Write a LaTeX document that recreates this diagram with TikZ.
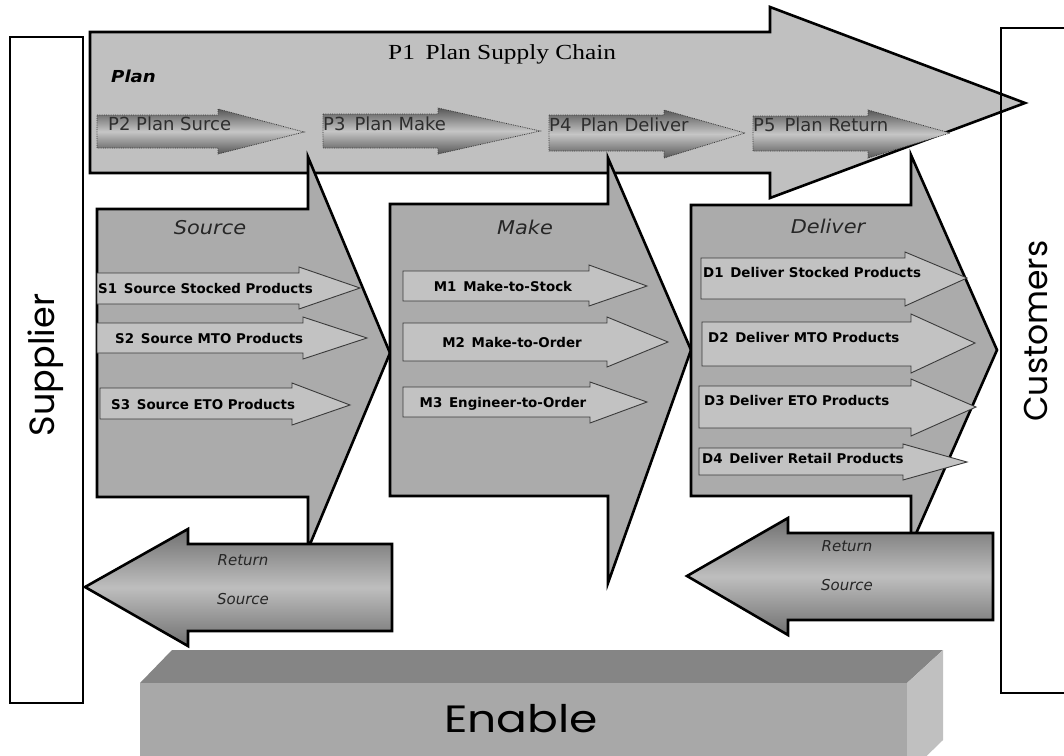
\documentclass[tikz,border=0pt]{standalone}
\usepackage{fontspec}
\setmainfont{Liberation Serif}
\newfontfamily\titlefont[FakeStretch=1.18]{Liberation Serif}
\newfontfamily\vfont{DejaVu Sans}
\newfontfamily\vwidefont[FakeStretch=1.1]{DejaVu Sans}
\newfontfamily\gfont{Poppins}
\newfontfamily\gwidefont[FakeStretch=1.2]{Poppins}
\definecolor{planfill}{HTML}{C0C0C0}
\definecolor{stagefill}{HTML}{ABABAB}
\definecolor{subfill}{HTML}{C2C2C2}
\definecolor{subedge}{HTML}{3A3A3A}
\definecolor{stepdark}{HTML}{585858}
\definecolor{steplight}{HTML}{C6C6C6}
\definecolor{steptext}{HTML}{2E2E2E}
\definecolor{retdark}{HTML}{707070}
\definecolor{retlight}{HTML}{BEBEBE}
\definecolor{slabtop}{HTML}{858585}
\definecolor{slabfront}{HTML}{A8A8A8}
\definecolor{slabside}{HTML}{C0C0C0}
\begin{document}
\begin{tikzpicture}[x=1pt,y=-1pt,
  outline/.style={draw=black,line width=2.6pt,line join=miter},
  planshape/.style={outline,fill=planfill},
  stageshape/.style={outline,fill=stagefill},
  subarrow/.style={draw=subedge,line width=0.9pt,fill=subfill},
  stepshape/.style={draw=subedge,densely dotted,line width=0.8pt,
    top color=stepdark,bottom color=stepdark,middle color=steplight},
  retshape/.style={outline,top color=retdark,bottom color=retdark,middle color=retlight},
  sidebox/.style={draw=black,line width=2pt,fill=white},
  steplabel/.style={anchor=base west,inner sep=0pt,text=steptext,
    font=\vfont\fontsize{18}{20}\selectfont},
  sublabel/.style={anchor=base west,inner sep=0pt,
    font=\vfont\bfseries\fontsize{13.4}{15}\selectfont},
  stagelabel/.style={anchor=base,inner sep=0pt,text=black!85,
    font=\vwidefont\itshape\fontsize{19}{21}\selectfont},
  retlabel/.style={anchor=base,inner sep=0pt,text=black!85,
    font=\vfont\itshape\fontsize{15}{17}\selectfont},
  sidelabel/.style={inner sep=0pt,font=\gfont\fontsize{33}{35}\selectfont}
]
\useasboundingbox (0,0) rectangle (1064,755);

% supplier side box
\draw[sidebox] (10,37) rectangle (83,703);
\node[sidelabel,rotate=90,font=\gfont\fontsize{35}{37}\selectfont] (supplier) at (46,365) {Supplier};

% plan: the big arrow across the top
\draw[planshape] (90,32) -- (770,32) -- (770,7) -- (1025,103) -- (770,198)
  -- (770,173) -- (90,173) -- cycle;
\node[anchor=base west,inner sep=0pt,font=\titlefont\fontsize{21.5}{24}\selectfont]
  (p1) at (388,59) {P1\hspace{0.5em}Plan Supply Chain};
\node[anchor=base west,inner sep=0pt,
  font=\vwidefont\bfseries\itshape\fontsize{16.5}{19}\selectfont]
  (plan) at (111,82) {Plan};

% planning steps
\draw[stepshape] (97,115) -- (218,115) -- (218,109) -- (304,132) -- (218,154)
  -- (218,148) -- (97,148) -- cycle;
\draw[stepshape] (323,114) -- (438,114) -- (438,108) -- (540,131) -- (438,154)
  -- (438,148) -- (323,148) -- cycle;
\draw[stepshape] (549,115) -- (664,115) -- (664,110) -- (745,133) -- (664,158)
  -- (664,151) -- (549,151) -- cycle;
\draw[stepshape] (753,116) -- (868,116) -- (868,110) -- (950,133) -- (868,158)
  -- (868,151) -- (753,151) -- cycle;
\node[steplabel] (p2) at (108,130) {P2 Plan Surce};
\node[steplabel] (p3) at (323,130) {P3\hspace{0.5em}Plan Make};
\node[steplabel] (p4) at (549,131) {P4\hspace{0.5em}Plan Deliver};
\node[steplabel] (p5) at (753,131) {P5\hspace{0.5em}Plan Return};

% execution stages
\draw[stageshape] (97,209) -- (308,209) -- (308,157) -- (390,353) -- (308,549)
  -- (308,497) -- (97,497) -- cycle;
\draw[stageshape] (390,204) -- (608,204) -- (608,158) -- (691,350) -- (608,583)
  -- (608,496) -- (390,496) -- cycle;
\draw[stageshape] (691,205) -- (911,205) -- (911,155) -- (997,350) -- (911,545)
  -- (911,496) -- (691,496) -- cycle;
\node[stagelabel] (source) at (210,234) {Source};
\node[stagelabel] (make) at (525,234) {Make};
\node[stagelabel] (deliver) at (828,233) {Deliver};

% source processes
\draw[subarrow] (97,273) -- (299,273) -- (299,267) -- (360,288) -- (299,309)
  -- (299,304) -- (97,304) -- cycle;
\draw[subarrow] (97,323) -- (303,323) -- (303,317) -- (367,338) -- (303,359)
  -- (303,353) -- (97,353) -- cycle;
\draw[subarrow] (100,388) -- (292,388) -- (292,383) -- (350,405) -- (292,425)
  -- (292,419) -- (100,419) -- cycle;
\node[sublabel] (s1) at (98,293) {S1\hspace{0.5em}Source Stocked Products};
\node[sublabel] (s2) at (115,343) {S2\hspace{0.5em}Source MTO Products};
\node[sublabel] (s3) at (111,409) {S3\hspace{0.5em}Source ETO Products};

% make processes
\draw[subarrow] (403,271) -- (589,271) -- (589,265) -- (647,286) -- (589,306)
  -- (589,301) -- (403,301) -- cycle;
\draw[subarrow] (403,323) -- (607,323) -- (607,317) -- (668,342) -- (607,367)
  -- (607,361) -- (403,361) -- cycle;
\draw[subarrow] (403,387) -- (590,387) -- (590,382) -- (647,402) -- (590,423)
  -- (590,417) -- (403,417) -- cycle;
\node[sublabel,anchor=base] (m1) at (503,291) {M1\hspace{0.5em}Make-to-Stock};
\node[sublabel,anchor=base] (m2) at (512,347) {M2\hspace{0.5em}Make-to-Order};
\node[sublabel,anchor=base] (m3) at (503,407) {M3\hspace{0.5em}Engineer-to-Order};

% deliver processes
\draw[subarrow] (701,258) -- (905,258) -- (905,252) -- (967,278) -- (905,306)
  -- (905,299) -- (701,299) -- cycle;
\draw[subarrow] (702,322) -- (911,322) -- (911,314) -- (975,343) -- (911,373)
  -- (911,366) -- (702,366) -- cycle;
\draw[subarrow] (699,386) -- (911,386) -- (911,379) -- (976,407) -- (911,436)
  -- (911,428) -- (699,428) -- cycle;
\draw[subarrow] (699,448) -- (903,448) -- (903,444) -- (967,462) -- (903,480)
  -- (903,475) -- (699,475) -- cycle;
\node[sublabel] (d1) at (703,277) {D1\hspace{0.5em}Deliver Stocked Products};
\node[sublabel] (d2) at (708,342) {D2\hspace{0.5em}Deliver MTO Products};
\node[sublabel] (d3) at (704,405) {D3 Deliver ETO Products};
\node[sublabel] (d4) at (702,463) {D4\hspace{0.5em}Deliver Retail Products};

% return flows
\draw[retshape] (85,587) -- (188,529) -- (188,544) -- (392,544) -- (392,631)
  -- (188,631) -- (188,646) -- cycle;
\draw[retshape] (687,576) -- (788,518) -- (788,533) -- (993,533) -- (993,620)
  -- (788,620) -- (788,635) -- cycle;
\node[retlabel] (ret1) at (243,565) {Return};
\node[retlabel] (src1) at (243,604) {Source};
\node[retlabel] (ret2) at (847,551) {Return};
\node[retlabel] (src2) at (847,590) {Source};

% enable slab
\fill[slabtop] (172,650) -- (943,650) -- (907,683) -- (140,683) -- cycle;
\fill[slabfront] (140,683) rectangle (907,765);
\fill[slabside] (907,683) -- (943,650) -- (943,740) -- (907,775) -- cycle;
\node[inner sep=0pt,font=\gwidefont\fontsize{38}{40}\selectfont] (enable) at (521,719) {Enable};

% customer side box
\draw[sidebox,fill=none] (1001,28) rectangle (1080,693);
\node[sidelabel] [rotate=90] (customers) at (1036,331) {Customers};
\end{tikzpicture}
\end{document}
